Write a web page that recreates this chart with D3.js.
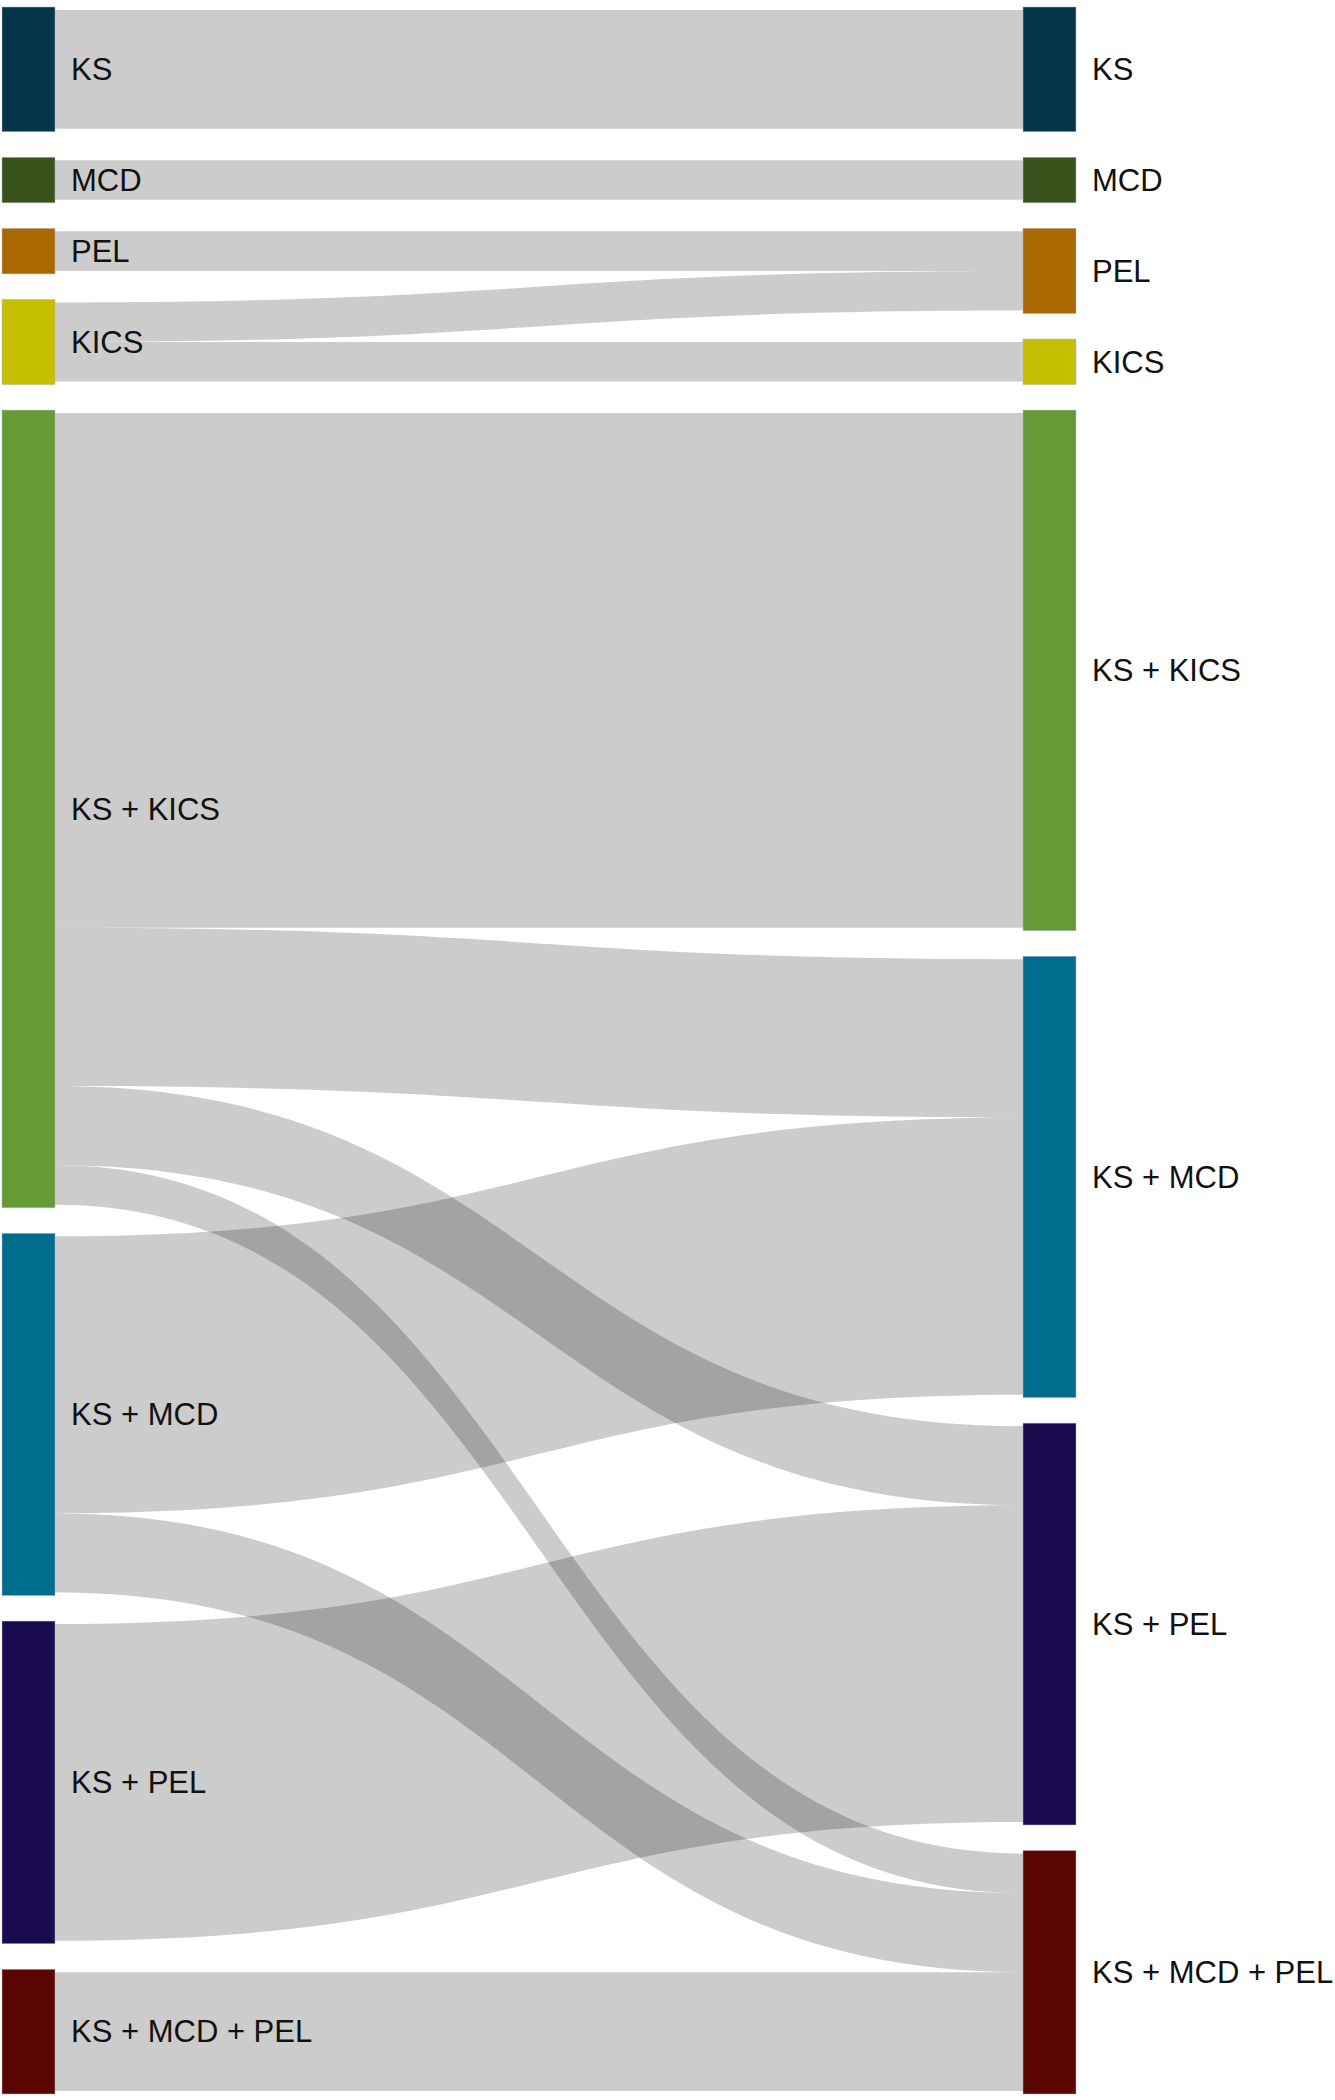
<!DOCTYPE html>
<html>
<head>
<meta charset="utf-8">
<script src="https://cdn.jsdelivr.net/npm/d3@7"></script>
<style>
  body { margin: 0; background: #ffffff; }
  text { font-family: "Liberation Sans", Arial, sans-serif; }
</style>
</head>
<body>
<script>
// node names and colours
var nodeNames = ["KS", "MCD", "PEL", "KICS", "KS + KICS", "KS + MCD", "KS + PEL", "KS + MCD + PEL"];
var nodeColors = ["#023648", "#38531b", "#a96800", "#c6be00", "#659b35", "#006d8e", "#1a0a4f", "#5b0500"];

// flows, left column -> right column
var linkSources = [0, 1, 2, 3, 3, 4, 4, 4, 4, 5, 5, 6, 7];
var linkTargets = [0, 1, 2, 2, 3, 4, 5, 6, 7, 5, 7, 6, 7];
var linkValues  = [3, 1, 1, 1, 1, 13, 4, 2, 1, 7, 2, 8, 3];

var width = 1335, height = 2100;
var padTop = 10, padBottom = 2091, gap = 31.5, nodeWidth = 53, ext = 3;

var svg = d3.select("body")
            .append("svg")
            .attr("width", width)
            .attr("height", height);

var total = d3.sum(linkValues);

// value -> pixel thickness
var yScale = d3.scaleLinear()
               .domain([0, total])
               .range([0, (padBottom - padTop) - gap * (nodeNames.length - 1)]);

// column -> x of node left edge
var xScale = d3.scaleLinear()
               .domain([0, 1])
               .range([2, 1023]);

var links = linkValues.map(function(v, i) {
  return {source: linkSources[i], target: linkTargets[i], value: v};
});

// build the two columns
function buildColumn(col, key) {
  var y = padTop;
  return nodeNames.map(function(name, i) {
    var value = d3.sum(links.filter(function(l) { return l[key] == i; }), function(l) { return l.value; });
    var node = {name: name, index: i, col: col, value: value, y0: y, y1: y + yScale(value)};
    y = node.y1 + gap;
    return node;
  });
}

var leftNodes = buildColumn(0, "source"),
    rightNodes = buildColumn(1, "target");

// stack link ends inside each node
leftNodes.forEach(function(n) {
  var y = n.y0;
  links.filter(function(l) { return l.source == n.index; })
       .sort(function(a, b) { return a.target - b.target; })
       .forEach(function(l) { l.sy0 = y; y += yScale(l.value); l.sy1 = y; });
});
rightNodes.forEach(function(n) {
  var y = n.y0;
  links.filter(function(l) { return l.target == n.index; })
       .sort(function(a, b) { return a.source - b.source; })
       .forEach(function(l) { l.ty0 = y; y += yScale(l.value); l.ty1 = y; });
});

var x0 = xScale(0) + nodeWidth, x1 = xScale(1), xm = (x0 + x1) / 2;

function bandPath(l) {
  return "M" + x0 + "," + l.sy0 +
         "C" + xm + "," + l.sy0 + " " + xm + "," + l.ty0 + " " + x1 + "," + l.ty0 +
         "L" + x1 + "," + l.ty1 +
         "C" + xm + "," + l.ty1 + " " + xm + "," + l.sy1 + " " + x0 + "," + l.sy1 +
         "Z";
}

svg.append("g")
   .attr("class", "links")
   .selectAll("path")
   .data(links)
   .enter()
   .append("path")
   .attr("d", bandPath)
   .attr("fill", "#000000")
   .attr("fill-opacity", 0.2);

var nodes = leftNodes.concat(rightNodes);

var node = svg.append("g")
              .attr("class", "nodes")
              .selectAll("g")
              .data(nodes)
              .enter()
              .append("g");

node.append("rect")
    .attr("x", function(d) { return xScale(d.col); })
    .attr("y", function(d) { return d.y0 - ext; })
    .attr("width", nodeWidth)
    .attr("height", function(d) { return d.y1 - d.y0 + 2 * ext; })
    .attr("fill", function(d) { return nodeColors[d.index]; })
    .attr("stroke", "#b0b8c0")
    .attr("stroke-width", 0.5);

node.append("text")
    .attr("x", function(d) { return d.col == 0 ? 71 : 1092; })
    .attr("y", function(d) { return (d.y0 + d.y1) / 2; })
    .attr("dy", "0.35em")
    .attr("font-size", "31px")
    .attr("fill", "#111111")
    .text(function(d) { return d.name; });
</script>
</body>
</html>
